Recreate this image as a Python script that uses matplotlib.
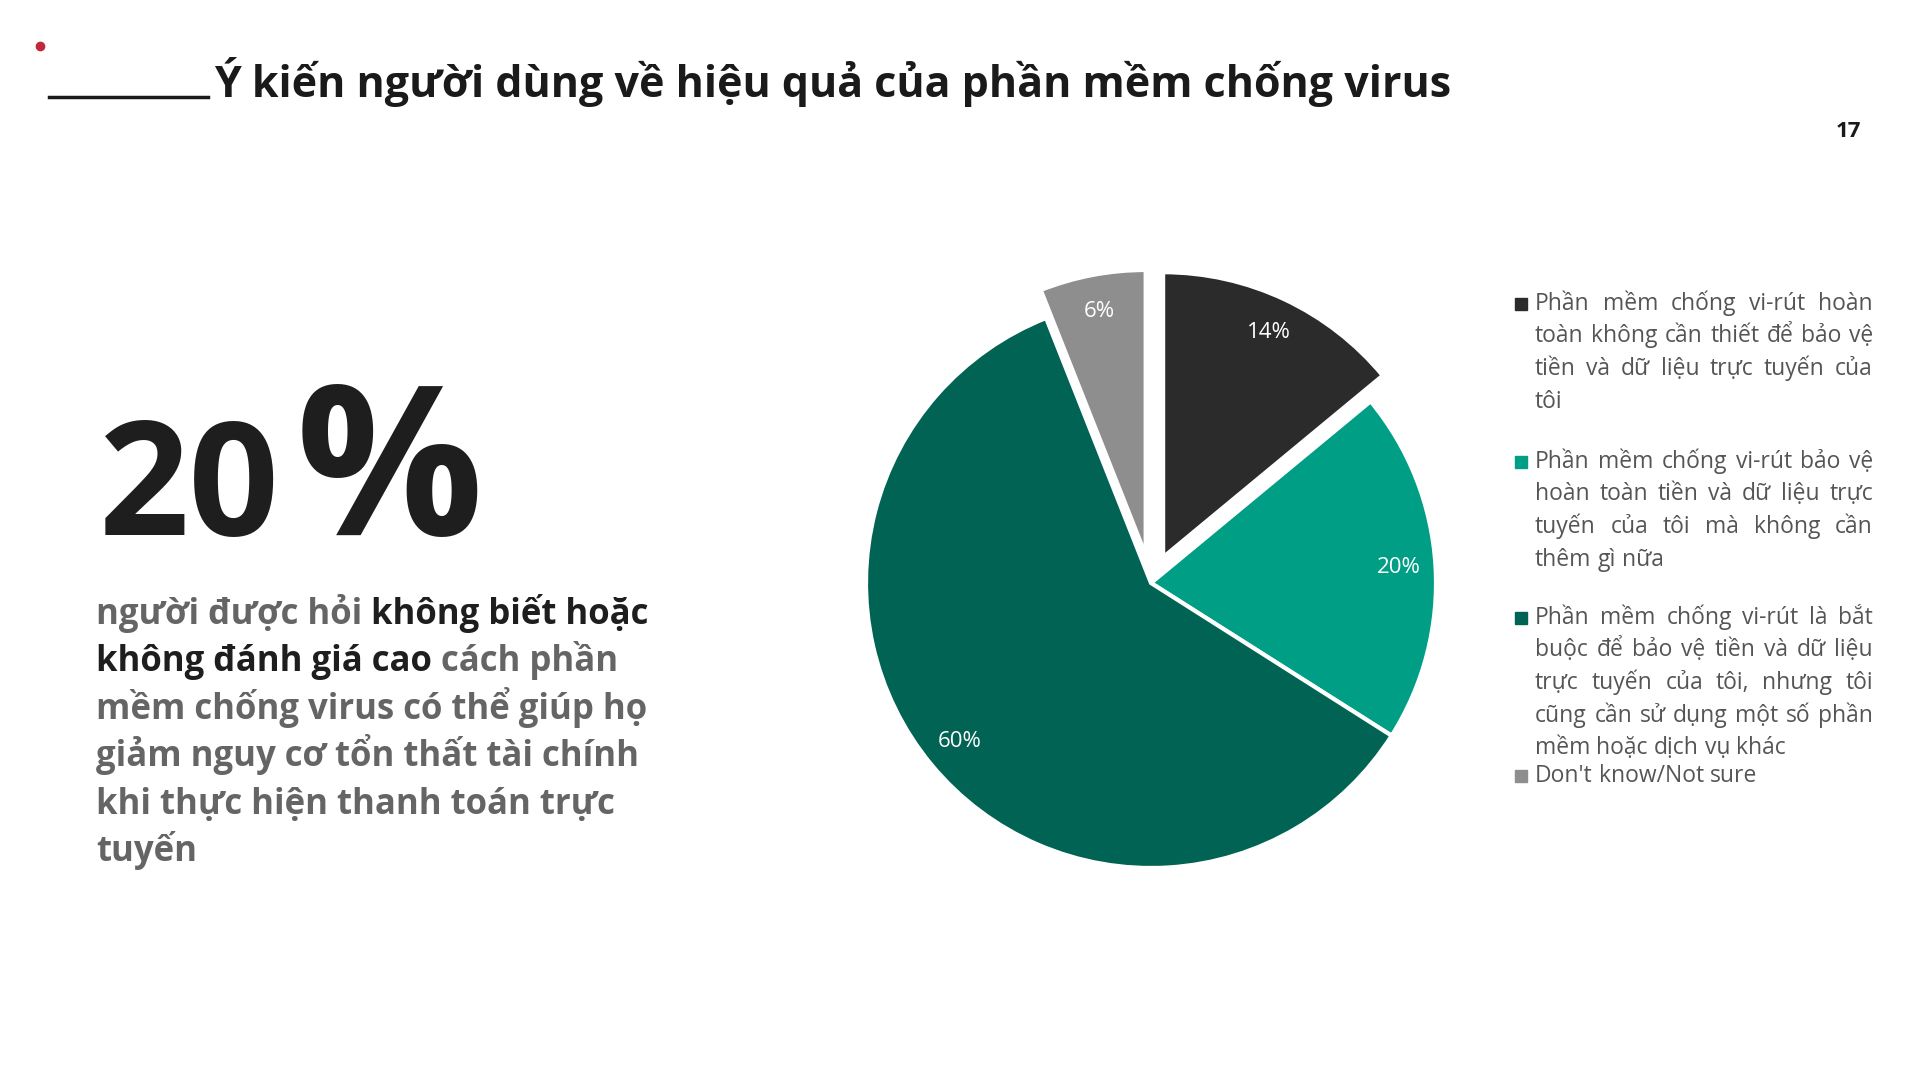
import matplotlib.pyplot as plt
from matplotlib.lines import Line2D
from matplotlib.patches import Rectangle

plt.rcParams['font.family'] = ['Open Sans', 'DejaVu Sans']

# ---- data ----
title = "Ý kiến người dùng về hiệu quả của phần mềm chống virus"
page_no = "17"
headline_num = "20"
headline_sign = "%"

# paragraph lines: (text, emphasised)
summary_lines = [
    [("người được hỏi", False), ("không biết hoặc", True)],
    [("không đánh giá cao", True), ("cách phần", False)],
    [("mềm chống virus có thể giúp họ", False)],
    [("giảm nguy cơ tổn thất tài chính", False)],
    [("khi thực hiện thanh toán trực", False)],
    [("tuyến", False)],
]

categories = [
    "Phần mềm chống vi-rút hoàn\ntoàn không cần thiết để bảo vệ\ntiền và dữ liệu trực tuyến của\ntôi",
    "Phần mềm chống vi-rút bảo vệ\nhoàn toàn tiền và dữ liệu trực\ntuyến của tôi mà không cần\nthêm gì nữa",
    "Phần mềm chống vi-rút là bắt\nbuộc để bảo vệ tiền và dữ liệu\ntrực tuyến của tôi, nhưng tôi\ncũng cần sử dụng một số phần\nmềm hoặc dịch vụ khác",
    "Don't know/Not sure",
]
shares = [14, 20, 60, 6]
pie_colors = ["#2b2b2b", "#009e85", "#006354", "#8e8e8e"]
explode = [0.1, 0, 0, 0.1]

# ---- figure ----
W, H = 1920, 1080
fig = plt.figure(figsize=(19.2, 10.8), dpi=100)
fig.patch.set_facecolor("white")
renderer = fig.canvas.get_renderer()


def px(x, y):
    return x / W, 1 - y / H


def text_width(s, **kw):
    t = fig.text(0, 0, s, **kw)
    w = t.get_window_extent(renderer).width
    t.remove()
    return w


# header
fig.add_artist(Line2D([49 / W, 208 / W], [1 - 97 / H] * 2, color="#1a1a1a", lw=2.5))
fig.add_artist(Line2D([40 / W], [1 - 46 / H], marker="o", ms=6, color="#c0283c", lw=0))
fig.text(*px(214, 97), title, fontsize=31, weight="bold", color="#1a1a1a", va="baseline")
fig.text(*px(1861, 137), page_no, fontsize=16, weight="bold", color="#1a1a1a",
         ha="right", va="baseline")

# big number
num_kw = dict(fontsize=114, weight="bold", color="#1e1e1e", va="baseline")
t20 = fig.text(*px(99, 535), headline_num, **num_kw)
x_pct = 99 + t20.get_window_extent(renderer).width + 16
fig.text(*px(x_pct, 535), headline_sign, fontsize=150, weight="bold",
         color="#1e1e1e", va="baseline")

# summary paragraph
para_kw = dict(fontsize=25, weight="bold", va="baseline")
space_w = text_width("a a", **para_kw) - text_width("aa", **para_kw)
y = 624
for line in summary_lines:
    x = 96
    for seg, strong in line:
        fig.text(*px(x, y), seg, color="#1e1e1e" if strong else "#656565", **para_kw)
        x += text_width(seg, **para_kw) + space_w
    y += 47.4

# pie
cx, cy, S = 1151, 583, 741
ax = fig.add_axes([(cx - S / 2) / W, 1 - (cy + S / 2) / H, S / W, S / H])
ax.pie(shares, colors=pie_colors, explode=explode, startangle=90, counterclock=False,
       autopct=lambda p: f"{p:.0f}%", pctdistance=0.87,
       wedgeprops=dict(edgecolor="white", linewidth=3),
       textprops=dict(color="white", fontsize=16))
ax.set_xlim(-1.3, 1.3)
ax.set_ylim(-1.3, 1.3)
ax.axis("off")

# legend with justified text
leg_kw = dict(fontsize=16.5, color="#555555", va="baseline")
x0, x1 = 1535, 1873
leg_space = text_width("a a", **leg_kw) - text_width("aa", **leg_kw)
starts = [310, 468, 624, 782]
for label, col, y0 in zip(categories, pie_colors, starts):
    fig.add_artist(Rectangle(px(1515, y0), 12 / W, 12 / H, color=col))
    lines = label.split("\n")
    for i, ln in enumerate(lines):
        yy = y0 + i * 32.5
        words = ln.split(" ")
        widths = [text_width(wd, **leg_kw) for wd in words]
        last = i == len(lines) - 1
        if last or len(words) == 1:
            gap = leg_space
        else:
            gap = max((x1 - x0 - sum(widths)) / (len(words) - 1), leg_space * 0.6)
        x = x0
        for wd, ww in zip(words, widths):
            fig.text(*px(x, yy), wd, **leg_kw)
            x += ww + gap

fig.savefig("out.png", dpi=100, facecolor="white")
